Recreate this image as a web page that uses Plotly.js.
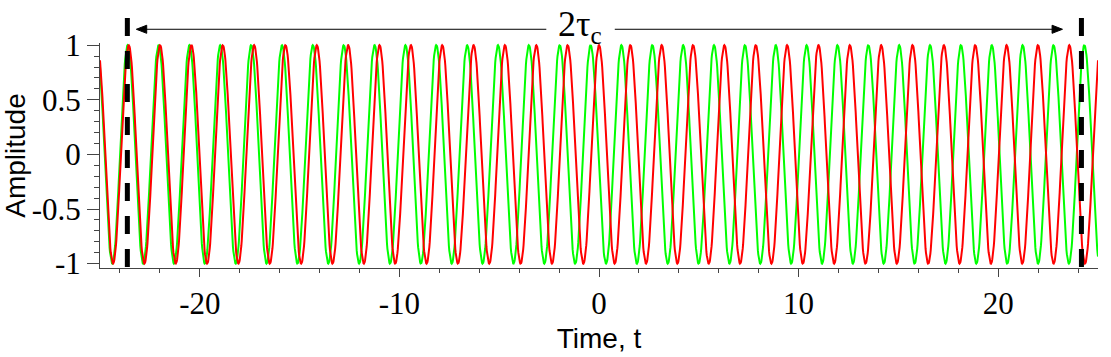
<!DOCTYPE html>
<html><head><meta charset="utf-8">
<script src="https://cdn.plot.ly/plotly-3.0.1.min.js"></script>
<style>html,body{margin:0;padding:0;background:#fff;}#chart{width:1111px;height:357px;}</style>
</head><body><div id="chart"></div>
<script>
// ---- values ----
const seriesNames = ['green wave', 'red wave'];
const angularFrequency = [4.064, 4.0];   // rad per unit time
const phaseOffset = [1.711, 0.0];        // rad
const timeRange = [-25, 25];
const sampleStep = 0.02;
const markerTimes = [-23.63, 24.17];     // dashed lines at -tau_c and +tau_c
const spanLabel = '2τ<sub>c</sub>';
const xTickVals = [-20, -10, 0, 10, 20];
const xTickText = ['-20', '-10', '0', '10', '20'];
const yTickVals = [-1, -0.5, 0, 0.5, 1];
const yTickText = ['-1', '-0.5', '0', '0.5', '1'];
const xTitle = 'Time, t';
const yTitle = 'Amplitude';

// ---- build ----
const t = [];
for (let v = timeRange[0]; v <= timeRange[1] + 1e-9; v += sampleStep) t.push(+v.toFixed(4));
const colors = ['#00ff00', '#ff0000'];
const traces = seriesNames.map((name, i) => ({
  type: 'scatter', mode: 'lines', name: name,
  x: t, y: t.map(v => Math.cos(angularFrequency[i] * v + phaseOffset[i])),
  line: {color: colors[i], width: 2}, hoverinfo: 'skip'
}));

const serif = '"Liberation Serif", "Times New Roman", serif';
const sans = '"Liberation Sans", Arial, sans-serif';

const layout = {
  width: 1111, height: 357,
  margin: {l: 100, r: 13, t: 43, b: 89},
  paper_bgcolor: '#fff', plot_bgcolor: '#fff', showlegend: false,
  xaxis: {
    range: timeRange, tickmode: 'array', tickvals: xTickVals, ticktext: xTickText,
    showline: true, linecolor: '#444', linewidth: 1, showgrid: false, zeroline: false,
    ticks: 'outside', ticklen: 8, tickcolor: '#444', tickwidth: 1,
    tickfont: {family: serif, size: 31, color: '#000'},
    automargin: false, fixedrange: true,
    minor: {ticks: 'outside', ticklen: 4, tickmode: 'linear', tick0: 0, dtick: 2, tickcolor: '#444', showgrid: false},
    title: {text: xTitle, font: {family: sans, size: 28, color: '#000'}, standoff: 8}
  },
  yaxis: {
    range: [-1.04, 1.02], tickmode: 'array', tickvals: yTickVals, ticktext: yTickText,
    showline: true, linecolor: '#444', linewidth: 1, showgrid: false, zeroline: false,
    ticks: 'outside', ticklen: 12, tickcolor: '#444', tickwidth: 1,
    tickfont: {family: serif, size: 31, color: '#000'},
    automargin: false, fixedrange: true,
    minor: {ticks: 'outside', ticklen: 5, tickmode: 'linear', tick0: 0, dtick: 0.1, tickcolor: '#444', showgrid: false},
    title: {text: yTitle, font: {family: sans, size: 28, color: '#000'}, standoff: 2}
  },
  shapes: markerTimes.map(m => ({
    type: 'line', xref: 'x', yref: 'paper', x0: m, x1: m, y0: 1.111, y1: 0,
    line: {color: '#000', width: 5, dash: '18px,15px'}, layer: 'above'
  })).concat([
    {type: 'line', xref: 'x', yref: 'paper', x0: -22.7, x1: -2.64, y0: 1.061, y1: 1.061,
     line: {color: '#000', width: 1}},
    {type: 'line', xref: 'x', yref: 'paper', x0: 0.79, x1: 22.74, y0: 1.061, y1: 1.061,
     line: {color: '#000', width: 1}},
    {type: 'path', xref: 'x', yref: 'paper', path: 'M -23.18,1.061 L -22.66,1.079 L -22.66,1.043 Z',
     fillcolor: '#000', line: {color: '#000', width: 1}},
    {type: 'path', xref: 'x', yref: 'paper', path: 'M 23.22,1.061 L 22.70,1.079 L 22.70,1.043 Z',
     fillcolor: '#000', line: {color: '#000', width: 1}}
  ]),
  annotations: [
    {xref: 'x', yref: 'paper', x: -0.94, y: 1.075, xanchor: 'center', yanchor: 'middle',
     text: spanLabel, showarrow: false, font: {family: serif, size: 36, color: '#000'}}
  ]
};

Plotly.newPlot('chart', traces, layout, {displayModeBar: false, staticPlot: true});
</script>
</body></html>
